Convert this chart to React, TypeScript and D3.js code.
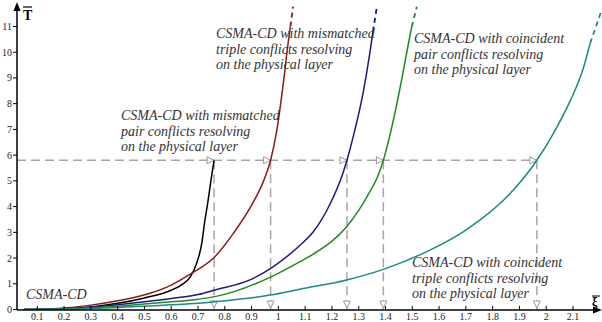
import React from "react";
import * as d3 from "d3";

type P = [number, number];

// x tick values and y tick values
const xTicks = [0.1,0.2,0.3,0.4,0.5,0.6,0.7,0.8,0.9,1,1.1,1.2,1.3,1.4,1.5,1.6,1.7,1.8,1.9,2,2.1];
const yTicks = [0,1,2,3,4,5,6,7,8,9,10,11];

// series (xi, T)
const csmaCd: P[] = [[0.05,0],[0.15,0.01],[0.2,0.03],[0.3,0.1],[0.4,0.24],[0.5,0.45],[0.6,0.75],[0.64,0.97],[0.67,1.25],[0.695,1.8],[0.714,2.57],[0.726,3.48],[0.738,4.26],[0.748,5.0],[0.76,5.8]];
const mismatchedPair: P[] = [[0.05,0],[0.15,0.02],[0.2,0.06],[0.3,0.17],[0.4,0.34],[0.521,0.63],[0.6,0.95],[0.677,1.41],[0.757,1.99],[0.832,2.96],[0.913,4.3],[0.945,5.0],[0.971,5.8],[0.994,6.95],[1.018,8.75],[1.037,10.4],[1.045,11.0]];
const mismatchedPairExt: P[] = [[1.045,11.0],[1.055,11.77]];
const mismatchedTriple: P[] = [[0.05,0],[0.2,0.03],[0.3,0.09],[0.4,0.18],[0.5,0.3],[0.6,0.43],[0.7,0.58],[0.763,0.76],[0.894,1.15],[0.98,1.66],[1.081,2.5],[1.129,3.0],[1.193,4.1],[1.241,5.3],[1.256,5.8],[1.279,6.7],[1.316,8.4],[1.342,10.0],[1.353,10.8]];
const mismatchedTripleExt: P[] = [[1.353,10.8],[1.368,11.77]];
const coincidentPair: P[] = [[0.05,0],[0.2,0.02],[0.3,0.06],[0.4,0.13],[0.5,0.21],[0.6,0.3],[0.7,0.4],[0.763,0.5],[0.969,1.25],[1.081,1.86],[1.13,2.15],[1.255,3.22],[1.3,3.85],[1.34,4.55],[1.37,5.15],[1.392,5.8],[1.417,6.8],[1.454,8.6],[1.485,10.3],[1.498,10.99]];
const coincidentPairExt: P[] = [[1.498,10.99],[1.517,11.77]];
const coincidentTriple: P[] = [[0.05,0],[0.2,0.01],[0.3,0.04],[0.4,0.08],[0.5,0.13],[0.6,0.18],[0.7,0.24],[0.763,0.3],[0.969,0.56],[1.081,0.79],[1.255,1.15],[1.392,1.56],[1.566,2.31],[1.69,3.02],[1.753,3.48],[1.86,4.45],[1.965,5.8],[2.027,6.85],[2.089,8.1],[2.139,9.4],[2.164,10.35]];
const coincidentTripleExt: P[] = [[2.164,10.35],[2.207,11.64]];

const guideT = 5.8;
const crossX = [0.76, 0.971, 1.256, 1.392, 1.965];

const labelCsma = ["CSMA-CD"];
const labelMisPair = ["CSMA-CD with mismatched", "pair conflicts resolving", "on the physical layer"];
const labelMisTriple = ["CSMA-CD with mismatched", "triple conflicts resolving", "on the physical layer"];
const labelCoPair = ["CSMA-CD with coincident", "pair conflicts resolving", "on the physical layer"];
const labelCoTriple = ["CSMA-CD with coincident", "triple conflicts resolving", "on the physical layer"];

export default function App() {
  const W = 602, H = 322;
  const x = d3.scaleLinear().domain([0, 2.2]).range([10.5, 599.8]);
  const y = d3.scaleLinear().domain([0, 11]).range([309.5, 26.5]);
  const ax0 = 17, ay0 = 310;
  const line = d3.line<P>().x(d => x(d[0])).y(d => y(d[1])).curve(d3.curveMonotoneX);
  const lineLin = d3.line<P>().x(d => x(d[0])).y(d => y(d[1]));

  const series = [
    { d: csmaCd, ext: null as P[] | null, c: "#000000" },
    { d: mismatchedPair, ext: mismatchedPairExt, c: "#8b1a1a" },
    { d: mismatchedTriple, ext: mismatchedTripleExt, c: "#1a1a80" },
    { d: coincidentPair, ext: coincidentPairExt, c: "#1f8a1f" },
    { d: coincidentTriple, ext: coincidentTripleExt, c: "#1a8a8a" },
  ];
  const gy = y(guideT);
  const grey = "#a6a6a6";
  const font = "Liberation Serif, DejaVu Serif, serif";
  const fs = { fontFamily: font };

  const labels = [
    { t: labelCsma, x0: 26, y0: 299 },
    { t: labelMisPair, x0: 121, y0: 120 },
    { t: labelMisTriple, x0: 216, y0: 38 },
    { t: labelCoPair, x0: 414, y0: 43 },
    { t: labelCoTriple, x0: 412, y0: 267 },
  ];

  return (
    <svg width={W} height={H} style={{ position: "absolute", left: 0, top: 0, background: "#fff" }}>
      <defs>
        <clipPath id="plot"><rect x={ax0} y={0} width={W - ax0} height={ay0} /></clipPath>
      </defs>
      {/* guides */}
      <line x1={ax0} x2={x(crossX[crossX.length - 1])} y1={gy} y2={gy} stroke={grey} strokeWidth={1.5} strokeDasharray="9,5" />
      {crossX.map((c, i) => (
        <g key={i}>
          <line x1={x(c)} x2={x(c)} y1={gy} y2={ay0} stroke={grey} strokeWidth={1.5} strokeDasharray="9,5" />
          <path d={`M${x(c)},${gy} L${x(c) - 7},${gy - 3.5} L${x(c) - 7},${gy + 3.5} Z`} fill="#fff" stroke="#999" strokeWidth={1} />
          <path d={`M${x(c)},${ay0 - 2} L${x(c) - 3.5},${ay0 - 9} L${x(c) + 3.5},${ay0 - 9} Z`} fill="#fff" stroke="#999" strokeWidth={1} />
        </g>
      ))}
      {/* curves */}
      <g clipPath="url(#plot)">
        {series.map((s, i) => (
          <g key={i}>
            <path d={line(s.d) || ""} fill="none" stroke={s.c} strokeWidth={1.5} />
            {s.ext && <path d={lineLin(s.ext) || ""} fill="none" stroke={s.c} strokeWidth={1.8} strokeDasharray="5,4" />}
          </g>
        ))}
      </g>
      {/* axes */}
      <line x1={ax0} x2={597} y1={ay0} y2={ay0} stroke="#000" strokeWidth={1.5} />
      <path d={`M602,${ay0} L593,${ay0 - 3.5} L593,${ay0 + 3.5} Z`} fill="#000" />
      <line x1={ax0} x2={ax0} y1={ay0} y2={8} stroke="#000" strokeWidth={1.5} />
      <path d={`M${ax0},2 L${ax0 - 3.5},11 L${ax0 + 3.5},11 Z`} fill="#000" />
      {yTicks.map(t => (
        <g key={t}>
          <line x1={13} x2={ax0} y1={y(t)} y2={y(t)} stroke="#000" strokeWidth={1} />
          <text x={12} y={y(t) + 3.5} textAnchor="end" fontSize={10} style={fs} fill="#222">{t}</text>
        </g>
      ))}
      {xTicks.map(t => (
        <g key={t}>
          <line x1={x(t)} x2={x(t)} y1={ay0 - 4} y2={ay0} stroke="#000" strokeWidth={1} />
          <text x={x(t)} y={320} textAnchor="middle" fontSize={10} style={fs} fill="#222">{t}</text>
        </g>
      ))}
      <text x={23} y={20} fontSize={14} fontWeight="bold" style={fs} fill="#000">T</text>
      <line x1={23} x2={32} y1={7} y2={7} stroke="#000" strokeWidth={1.2} />
      <text x={592} y={306} fontSize={12} fontWeight="bold" style={fs} fill="#000">ξ</text>
      <line x1={592} x2={600} y1={296} y2={296} stroke="#000" strokeWidth={1} />
      {/* labels */}
      {labels.map((l, i) => (
        <text key={i} x={l.x0} y={l.y0} fontSize={14} fontStyle="italic" style={fs} fill="#333">
          {l.t.map((s, j) => <tspan key={j} x={l.x0} y={l.y0 + j * 15.5}>{s}</tspan>)}
        </text>
      ))}
    </svg>
  );
}
